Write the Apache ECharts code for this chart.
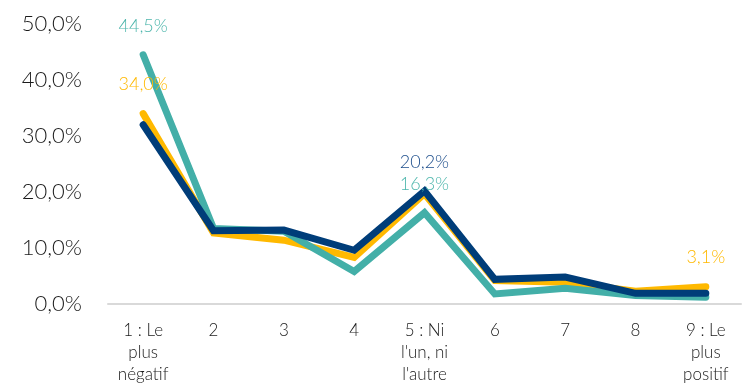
<!DOCTYPE html>
<html>
<head>
<meta charset="utf-8">
<script src="https://cdn.jsdelivr.net/npm/echarts@6/dist/echarts.min.js"></script>
<style>
  html, body { margin: 0; padding: 0; background: #fff; }
  #chart { width: 743px; height: 391px; }
</style>
</head>
<body>
<div id="chart"></div>
<script>
// Response scale from most negative (1) to most positive (9)
const categories = [
  "1 : Le\nplus\nnégatif", "2", "3", "4", "5 : Ni\nl'un, ni\nl'autre", "6", "7", "8", "9 : Le\nplus\npositif"
];
// Share of respondents per answer, in percent
const yellowValues = [34.0, 12.7, 11.4, 8.3, 19.7, 4.2, 3.9, 2.3, 3.1];
const tealValues   = [44.5, 13.5, 13.0, 5.8, 16.3, 1.8, 2.8, 1.5, 1.2];
const navyValues   = [32.0, 13.1, 13.2, 9.6, 20.2, 4.4, 4.8, 1.9, 1.9];
// Which points carry a value label (by index)
const yellowLabelled = [0, 8];
const tealLabelled   = [0, 4];
const navyLabelled   = [4];

const FONT = "Lato";
const fmt = v => v.toFixed(1).replace(".", ",") + "%";

function series(name, values, labelled, color, labelColor) {
  return {
    name: name,
    type: "line",
    data: values.map((v, i) => labelled.includes(i)
      ? { value: v, label: { show: true } }
      : v),
    showSymbol: true,
    symbol: "circle",
    symbolSize: 0,
    lineStyle: { color: color, width: 7, cap: "round", join: "miter" },
    itemStyle: { color: color },
    label: {
      show: false,
      position: "top",
      distance: 20,
      color: labelColor,
      fontFamily: FONT,
      fontWeight: 300,
      fontSize: 18,
      formatter: p => fmt(p.value)
    },
    emphasis: { disabled: true },
    animation: false
  };
}

const chart = echarts.init(document.getElementById("chart"));
chart.setOption({
  animation: false,
  grid: { left: 108, right: 2, top: 24, bottom: 87 },
  xAxis: {
    type: "category",
    data: categories,
    boundaryGap: true,
    axisLine: { lineStyle: { color: "#d9d9d9", width: 2 } },
    axisTick: { show: false },
    axisLabel: {
      interval: 0,
      margin: 16,
      color: "#1a1a1a",
      fontFamily: FONT,
      fontWeight: 300,
      fontSize: 17,
      lineHeight: 22
    }
  },
  yAxis: {
    type: "value",
    min: 0,
    max: 50,
    interval: 10,
    axisLine: { show: false },
    axisTick: { show: false },
    splitLine: { show: false },
    axisLabel: {
      margin: 26,
      color: "#1a1a1a",
      fontFamily: FONT,
      fontWeight: 300,
      fontSize: 22,
      formatter: v => fmt(v)
    }
  },
  series: [
    series("jaune", yellowValues, yellowLabelled, "#FFB900", "#FFB900"),
    series("turquoise", tealValues, tealLabelled, "#43AFA8", "#4DB6AC"),
    series("bleu", navyValues, navyLabelled, "#003D79", "#1D4E8C")
  ]
});
</script>
</body>
</html>
